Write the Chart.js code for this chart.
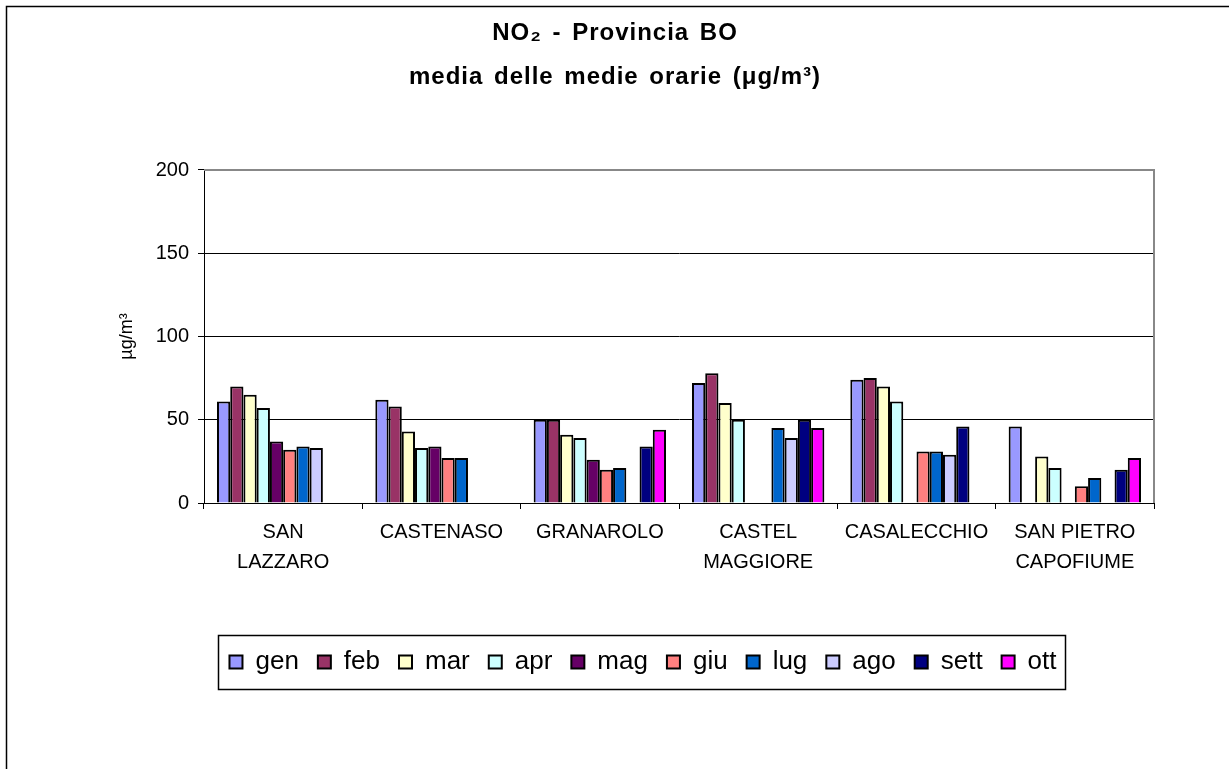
<!DOCTYPE html>
<html><head><meta charset="utf-8">
<script src="https://cdn.jsdelivr.net/npm/chart.js@4.4.0/dist/chart.umd.min.js"></script>
<style>html,body{margin:0;padding:0;background:#fff;overflow:hidden}</style>
</head><body>
<canvas id="c" width="1229" height="769" style="width:1229px;height:769px;display:block"></canvas>
<script>
const categories = [["SAN","LAZZARO"],"CASTENASO","GRANAROLO",["CASTEL","MAGGIORE"],"CASALECCHIO",["SAN PIETRO","CAPOFIUME"]];
const months = ["gen","feb","mar","apr","mag","giu","lug","ago","sett","ott"];
const gen  = [61, 62, 50, 72, 74, 46];
const feb  = [70, 58, 50, 78, 75, null];
const mar  = [65, 43, 41, 60, 70, 28];
const apr  = [57, 33, 39, 50, 61, 21];
const mag  = [37, 34, 26, null, null, null];
const giu  = [32, 27, 20, null, 31, 10];
const lug  = [34, 27, 21, 45, 31, 15];
const ago  = [33, null, null, 39, 29, null];
const sett = [null, null, 34, 50, 46, 20];
const ott  = [null, null, 44, 45, null, 27];
const yTicks = [0, 50, 100, 150, 200];

const seriesValues = [gen, feb, mar, apr, mag, giu, lug, ago, sett, ott];
const colors = ["#9999FF","#993366","#FFFFCC","#CCFFFF","#660066","#FF8080","#0066CC","#CCCCFF","#000080","#FF00FF"];

Chart.defaults.font.family = '"Liberation Sans", Arial, sans-serif';
Chart.defaults.color = '#000';

const framePlugin = {
  id: 'frame',
  beforeDraw(chart) {
    const ctx = chart.ctx;
    ctx.save();
    ctx.fillStyle = '#fff';
    ctx.fillRect(0, 0, chart.width, chart.height);
    ctx.strokeStyle = '#000';
    ctx.lineWidth = 1.5;
    ctx.strokeRect(6.5, 6.5, 1400, 1000);
    ctx.restore();
    const tb = chart.titleBlock;
    if (tb && !tb._spaced) {
      const orig = tb.draw;
      tb.draw = function () {
        const c = this.ctx;
        c.save();
        c.letterSpacing = '1px';
        c.wordSpacing = '3px';
        c.translate(Math.round(chart.width / 2 - (this.left + this.right) / 2), 0);
        orig.apply(this, arguments);
        c.restore();
      };
      tb._spaced = true;
    }
  },
  afterDatasetsDraw(chart) {
    const ctx = chart.ctx, a = chart.chartArea;
    ctx.save();
    ctx.strokeStyle = '#888';
    ctx.lineWidth = 2;
    ctx.beginPath();
    ctx.moveTo(a.left, a.top);
    ctx.lineTo(a.right, a.top);
    ctx.lineTo(a.right, a.bottom);
    ctx.stroke();
    ctx.restore();
  },
  afterDraw(chart) {
    const lg = chart.legend;
    if (!lg || !lg.legendHitBoxes || !lg.legendHitBoxes.length) return;
    const hb = lg.legendHitBoxes;
    let l = Infinity, r = -Infinity, t = Infinity, b = -Infinity;
    hb.forEach(h => { l = Math.min(l, h.left); r = Math.max(r, h.left + h.width); t = Math.min(t, h.top); b = Math.max(b, h.top + h.height); });
    const ctx = chart.ctx;
    ctx.save();
    ctx.strokeStyle = '#000';
    ctx.lineWidth = 1.5;
    const cy = (t + b) / 2;
    ctx.strokeRect(Math.round(l - 11) + 0.5, Math.round(cy - 27) + 0.5, Math.round(r - l + 20), 54);
    ctx.restore();
  }
};

new Chart(document.getElementById('c'), {
  type: 'bar',
  data: {
    labels: categories,
    datasets: months.map((m, i) => ({
      label: m,
      data: seriesValues[i],
      backgroundColor: colors[i],
      borderColor: '#000',
      borderWidth: 2,
      categoryPercentage: 0.836,
      barPercentage: 1.0
    }))
  },
  options: {
    responsive: false,
    animation: false,
    layout: { padding: { left: 132, right: 75, top: 0, bottom: 84 } },
    plugins: {
      title: {
        display: true,
        text: ['NO\u2082 - Provincia BO', 'media delle medie orarie (\u03BCg/m\u00B3)'],
        font: { size: 24, weight: 'bold', lineHeight: 1.8333 },
        color: '#000',
        padding: { top: 11, bottom: 71 }
      },
      legend: {
        position: 'bottom',
        labels: { boxWidth: 13, boxHeight: 13, font: { size: 26 }, color: '#000', padding: 19 }
      },
      tooltip: { enabled: false }
    },
    scales: {
      x: {
        ticks: { color: '#000', font: { size: 20, lineHeight: 1.5 }, padding: 8, maxRotation: 0, autoSkip: false },
        grid: { drawOnChartArea: false, tickLength: 6, color: '#000', offset: true },
        border: { color: '#000', width: 1 },
        afterFit: s => { s.height = 127; }
      },
      y: {
        min: 0, max: 200,
        afterBuildTicks: s => { s.ticks = yTicks.map(v => ({ value: v })); },
        ticks: { color: '#000', font: { size: 20 }, padding: 9 },
        grid: {
          color: c => (c.tick && c.tick.value === 200) ? 'rgba(0,0,0,0)' : '#000',
          tickColor: '#000', lineWidth: 1, tickLength: 6
        },
        border: { color: '#000', width: 1 },
        title: { display: true, text: '\u00B5g/m\u00B3', font: { size: 18 }, color: '#000', padding: { top: -16, bottom: 0 } },
        afterFit: s => { s.width = 72; }
      }
    }
  },
  plugins: [framePlugin]
});
</script>
</body></html>
